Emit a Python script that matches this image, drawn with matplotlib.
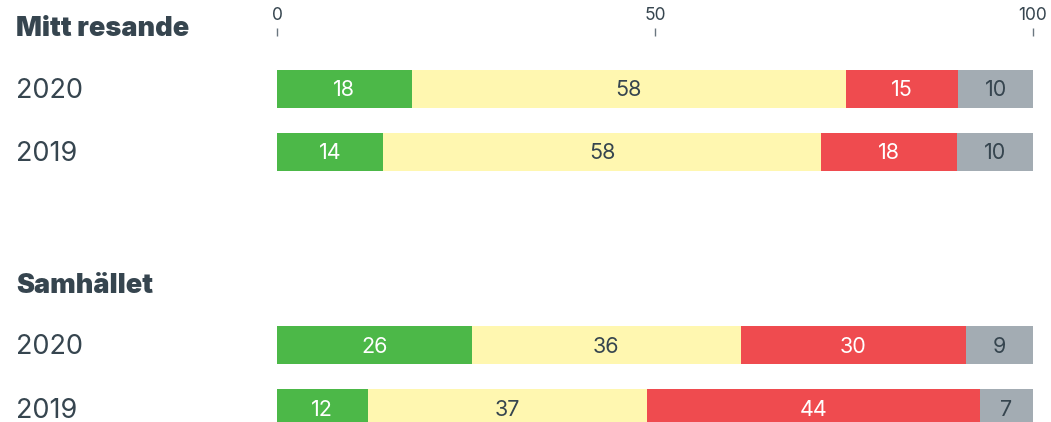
import matplotlib.pyplot as plt
import numpy as np

# survey answers per group (shares, as printed on the bars)
groups = ['Mitt resande', 'Samhället']
years = ['2020', '2019']
mitt_2020 = [18, 58, 15, 10]
mitt_2019 = [14, 58, 18, 10]
samh_2020 = [26, 36, 30, 9]
samh_2019 = [12, 37, 44, 7]
ticks = [0, 50, 100]

colors = ['#4cb848', '#fff7b0', '#ef4b4f', '#a3acb3']
label_colors = ['white', '#36454f', 'white', '#36454f']
text_col = '#36454f'

W, H = 1051, 422
fig = plt.figure(figsize=(W / 100, H / 100), dpi=100)
# axes spans the bar area, in pixel units vertically
ax = fig.add_axes([277 / W, 0, 756 / W, (H - 36) / H])
ax.set_xlim(0, 100)
ax.set_ylim(H, 36)

header_y = [29, 286]
row_y = [[89, 152], [345.5, 408.5]]
rows = [[mitt_2020, mitt_2019], [samh_2020, samh_2019]]

font = ['Inter', 'DejaVu Sans']
for g, name in enumerate(groups):
    fig.text(16 / W, 1 - header_y[g] / H, name, fontsize=19.5, fontweight='black',
             color=text_col, va='center', ha='left', family=font)
    for r, vals in enumerate(rows[g]):
        y = row_y[g][r]
        fig.text(16 / W, 1 - (y + 2) / H, years[r], fontsize=19.5, color=text_col,
                 va='center', ha='left', family=font)
        vals = np.array(vals, dtype=float)
        widths = vals / vals.sum() * 100
        left = 0
        for i, w in enumerate(widths):
            ax.barh(y, w, left=left, height=38, color=colors[i], linewidth=0)
            ax.text(left + w / 2, y + 1.5, str(int(vals[i])), ha='center', va='center',
                    fontsize=15.5, color=label_colors[i], family=font)
            left += w

ax.xaxis.tick_top()
ax.set_xticks(ticks)
ax.set_xticklabels([str(t) for t in ticks], family=font)
ax.tick_params(axis='x', length=6, width=1, color='#6b7780', labelcolor=text_col,
               labelsize=12.5, pad=3)
ax.set_yticks([])
for s in ax.spines.values():
    s.set_visible(False)

fig.savefig('out.png', dpi=100)
